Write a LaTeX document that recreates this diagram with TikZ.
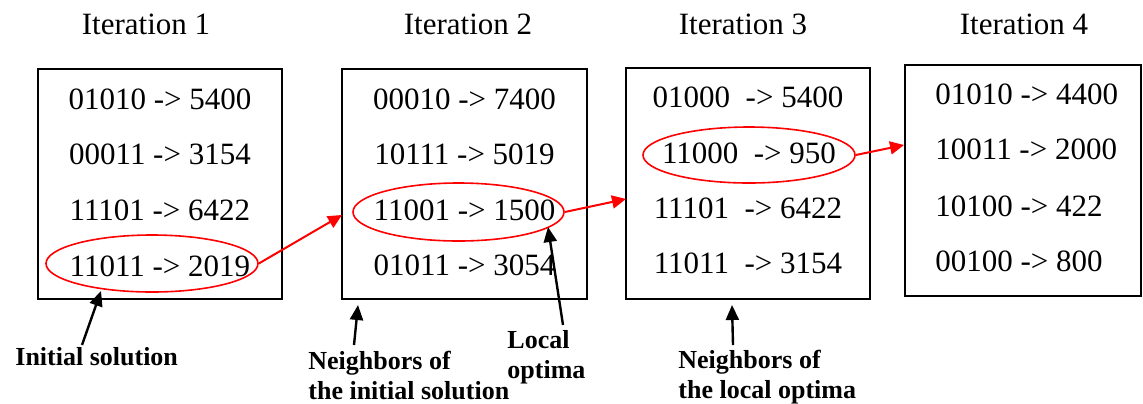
\documentclass[tikz,border=0pt]{standalone}
\usepackage{fontspec}
\setmainfont{Liberation Serif}
\usetikzlibrary{arrows.meta,shapes.geometric,fit}

\begin{document}
\begin{tikzpicture}[x=0.5pt,y=-0.5pt,
  title/.style={anchor=base,inner sep=0pt,font=\fontsize{15.5}{18}\selectfont},
  entry/.style={anchor=base,inner sep=0pt,font=\fontsize{15.5}{18}\selectfont},
  entryl/.style={entry,anchor=base west},
  iterbox/.style={draw=black,line width=1pt,inner sep=0pt},
  pick/.style={ellipse,draw=red,line width=0.8pt,inner sep=0pt},
  move/.style={draw=red,line width=1pt,-{Triangle[length=7pt,width=6.5pt]}},
  note/.style={anchor=north west,inner sep=0pt,align=left,
    font=\fontsize{13}{15.25}\selectfont\bfseries},
  pointer/.style={draw=black,line width=1.2pt,-{Triangle[length=7.5pt,width=6.5pt]}}]

\useasboundingbox (0,0) rectangle (1143,403);

% iteration titles
\node[title] (h1) at (146,34) {Iteration 1};
\node[title] (h2) at (468,34) {Iteration 2};
\node[title] (h3) at (743,34) {Iteration 3};
\node[title] (h4) at (1024,34) {Iteration 4};

% boxes of candidate solutions
\node[iterbox,fit={(38,69)(282,299)}] (b1) {};
\node[iterbox,fit={(342,69)(587,299)}] (b2) {};
\node[iterbox,fit={(626,68)(870,299)}] (b3) {};
\node[iterbox,fit={(905,65)(1141,296)}] (b4) {};

% iteration 1
\node[entry] (r11) at (160,109) {01010 -> 5400};
\node[entry] (r12) at (160,164.5) {00011 -> 3154};
\node[entry] (r13) at (160,220.5) {11101 -> 6422};
\node[entry] (r14) at (160,276) {11011 -> 2019};

% iteration 2
\node[entry] (r21) at (464.5,109) {00010 -> 7400};
\node[entry] (r22) at (464.5,164.5) {10111 -> 5019};
\node[entry] (r23) at (464.5,220) {11001 -> 1500};
\node[entry] (r24) at (464.5,275) {01011 -> 3054};

% iteration 3
\node[entry] (r31) at (748,107.5) {01000\ \ -> 5400};
\node[entry] (r32) at (749,163) {11000\ \ -> 950};
\node[entry] (r33) at (748,218.5) {11101\ \ -> 6422};
\node[entry] (r34) at (748,273.5) {11011\ \ -> 3154};

% iteration 4
\node[entryl] (r41) at (935,104.5) {01010 -> 4400};
\node[entryl] (r42) at (935,159.5) {10011 -> 2000};
\node[entryl] (r43) at (935,216) {10100 -> 422};
\node[entryl] (r44) at (935,271) {00100 -> 800};

% selected solutions
\node[pick,minimum width=106pt,minimum height=28.5pt] (e1) at (152,263.5) {};
\node[pick,minimum width=105.5pt,minimum height=29pt] (e2) at (458.5,212) {};
\node[pick,minimum width=106pt,minimum height=28pt] (e3) at (749,155) {};

% moves between iterations
\coordinate (t1) at (342,215);
\coordinate (t2) at (626,199);
\coordinate (t3) at (904,145);
\draw[move] (e1.east) -- (t1);
\draw[move] (e2.east) -- (t2);
\draw[move] (e3.east) -- (t3);

% annotations
\node[note] (n1) at (15,347) {Initial solution};
\node[note] (n2) at (308,350.5) {Neighbors of\\the initial solution};
\node[note] (n3) at (507,330) {Local\\optima};
\node[note] (n4) at (678,349.5) {Neighbors of\\the local optima};

\coordinate (s1) at (82,345);
\coordinate (p1) at (101,291);
\coordinate (s2) at (354,345);
\coordinate (p2) at (358,305);
\coordinate (s3) at (563,325);
\coordinate (p3) at (548,227);
\coordinate (s4) at (733,345);
\coordinate (p4) at (732,305);
\draw[pointer] (s1) -- (p1);
\draw[pointer] (s2) -- (p2);
\draw[pointer] (s3) -- (p3);
\draw[pointer] (s4) -- (p4);
\end{tikzpicture}
\end{document}
